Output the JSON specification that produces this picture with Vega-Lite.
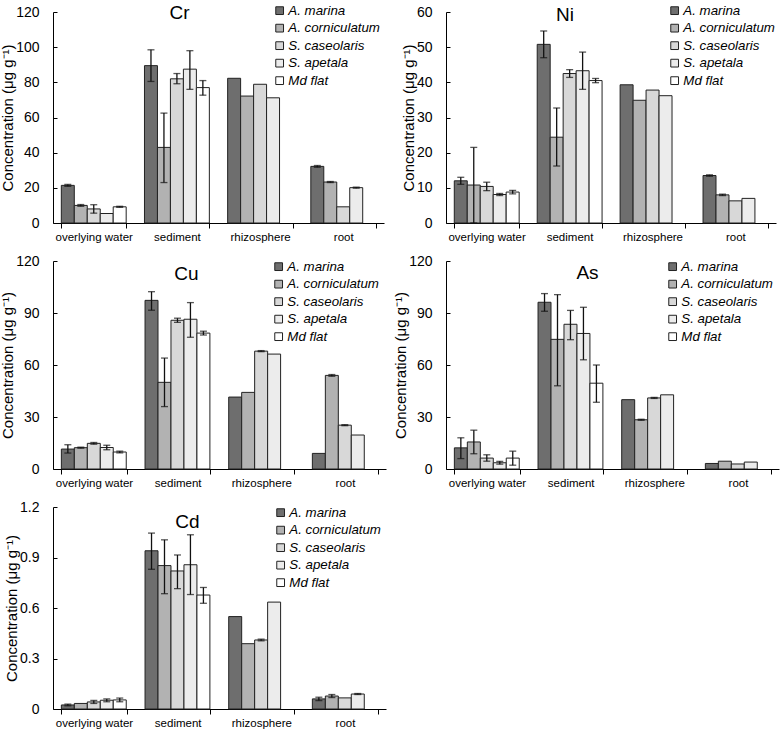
{
  "$schema": "https://vega.github.io/schema/vega-lite/v6.json",
  "padding": {"left": 0, "top": 4, "right": 2, "bottom": 0},
  "datasets": {
    "d": [
      {"m":"Cr","s":"overlying water","p":"A. marina","v":21.4,"lo":20.9,"hi":21.9},
      {"m":"Cr","s":"overlying water","p":"A. corniculatum","v":10.0,"lo":9.5,"hi":10.5},
      {"m":"Cr","s":"overlying water","p":"S. caseolaris","v":8.0,"lo":5.6,"hi":10.4},
      {"m":"Cr","s":"overlying water","p":"S. apetala","v":5.4},
      {"m":"Cr","s":"overlying water","p":"Md flat","v":9.2,"lo":8.9,"hi":9.5},
      {"m":"Cr","s":"sediment","p":"A. marina","v":89.5,"lo":80.5,"hi":98.5},
      {"m":"Cr","s":"sediment","p":"A. corniculatum","v":43.0,"lo":23.0,"hi":62.5},
      {"m":"Cr","s":"sediment","p":"S. caseolaris","v":82.0,"lo":79.2,"hi":85.0},
      {"m":"Cr","s":"sediment","p":"S. apetala","v":87.5,"lo":76.0,"hi":98.0},
      {"m":"Cr","s":"sediment","p":"Md flat","v":77.0,"lo":72.7,"hi":81.0},
      {"m":"Cr","s":"rhizosphere","p":"A. marina","v":82.3},
      {"m":"Cr","s":"rhizosphere","p":"A. corniculatum","v":72.2},
      {"m":"Cr","s":"rhizosphere","p":"S. caseolaris","v":78.9},
      {"m":"Cr","s":"rhizosphere","p":"S. apetala","v":71.2},
      {"m":"Cr","s":"root","p":"A. marina","v":32.2,"lo":31.7,"hi":32.7},
      {"m":"Cr","s":"root","p":"A. corniculatum","v":23.3,"lo":23.0,"hi":23.6},
      {"m":"Cr","s":"root","p":"S. caseolaris","v":9.2},
      {"m":"Cr","s":"root","p":"S. apetala","v":20.1,"lo":19.8,"hi":20.4},

      {"m":"Ni","s":"overlying water","p":"A. marina","v":12.0,"lo":11.0,"hi":13.0},
      {"m":"Ni","s":"overlying water","p":"A. corniculatum","v":10.8,"lo":0.0,"hi":21.5},
      {"m":"Ni","s":"overlying water","p":"S. caseolaris","v":10.4,"lo":9.2,"hi":11.6},
      {"m":"Ni","s":"overlying water","p":"S. apetala","v":8.1,"lo":7.8,"hi":8.4},
      {"m":"Ni","s":"overlying water","p":"Md flat","v":8.8,"lo":8.3,"hi":9.3},
      {"m":"Ni","s":"sediment","p":"A. marina","v":50.8,"lo":47.0,"hi":54.6},
      {"m":"Ni","s":"sediment","p":"A. corniculatum","v":24.4,"lo":16.2,"hi":32.7},
      {"m":"Ni","s":"sediment","p":"S. caseolaris","v":42.5,"lo":41.4,"hi":43.6},
      {"m":"Ni","s":"sediment","p":"S. apetala","v":43.3,"lo":38.0,"hi":48.6},
      {"m":"Ni","s":"sediment","p":"Md flat","v":40.5,"lo":39.9,"hi":41.1},
      {"m":"Ni","s":"rhizosphere","p":"A. marina","v":39.3},
      {"m":"Ni","s":"rhizosphere","p":"A. corniculatum","v":34.9},
      {"m":"Ni","s":"rhizosphere","p":"S. caseolaris","v":37.8},
      {"m":"Ni","s":"rhizosphere","p":"S. apetala","v":36.2},
      {"m":"Ni","s":"root","p":"A. marina","v":13.5,"lo":13.3,"hi":13.7},
      {"m":"Ni","s":"root","p":"A. corniculatum","v":8.0,"lo":7.8,"hi":8.2},
      {"m":"Ni","s":"root","p":"S. caseolaris","v":6.3},
      {"m":"Ni","s":"root","p":"S. apetala","v":7.0},

      {"m":"Cu","s":"overlying water","p":"A. marina","v":11.5,"lo":9.2,"hi":14.0},
      {"m":"Cu","s":"overlying water","p":"A. corniculatum","v":12.3,"lo":12.0,"hi":12.6},
      {"m":"Cu","s":"overlying water","p":"S. caseolaris","v":14.8,"lo":14.3,"hi":15.3},
      {"m":"Cu","s":"overlying water","p":"S. apetala","v":12.4,"lo":11.1,"hi":13.7},
      {"m":"Cu","s":"overlying water","p":"Md flat","v":9.8,"lo":9.3,"hi":10.3},
      {"m":"Cu","s":"sediment","p":"A. marina","v":97.3,"lo":91.6,"hi":102.3},
      {"m":"Cu","s":"sediment","p":"A. corniculatum","v":50.0,"lo":36.0,"hi":64.0},
      {"m":"Cu","s":"sediment","p":"S. caseolaris","v":85.8,"lo":84.6,"hi":87.0},
      {"m":"Cu","s":"sediment","p":"S. apetala","v":86.4,"lo":76.0,"hi":96.0},
      {"m":"Cu","s":"sediment","p":"Md flat","v":78.4,"lo":77.3,"hi":79.5},
      {"m":"Cu","s":"rhizosphere","p":"A. marina","v":41.5},
      {"m":"Cu","s":"rhizosphere","p":"A. corniculatum","v":44.2},
      {"m":"Cu","s":"rhizosphere","p":"S. caseolaris","v":68.0,"lo":67.7,"hi":68.3},
      {"m":"Cu","s":"rhizosphere","p":"S. apetala","v":66.3},
      {"m":"Cu","s":"root","p":"A. marina","v":9.0},
      {"m":"Cu","s":"root","p":"A. corniculatum","v":54.0,"lo":53.5,"hi":54.5},
      {"m":"Cu","s":"root","p":"S. caseolaris","v":25.3,"lo":25.0,"hi":25.6},
      {"m":"Cu","s":"root","p":"S. apetala","v":19.6},

      {"m":"As","s":"overlying water","p":"A. marina","v":12.2,"lo":6.0,"hi":18.0},
      {"m":"As","s":"overlying water","p":"A. corniculatum","v":15.6,"lo":8.8,"hi":22.4},
      {"m":"As","s":"overlying water","p":"S. caseolaris","v":6.3,"lo":4.5,"hi":8.2},
      {"m":"As","s":"overlying water","p":"S. apetala","v":3.6,"lo":2.8,"hi":4.4},
      {"m":"As","s":"overlying water","p":"Md flat","v":6.3,"lo":2.2,"hi":10.3},
      {"m":"As","s":"sediment","p":"A. marina","v":96.2,"lo":91.0,"hi":101.2},
      {"m":"As","s":"sediment","p":"A. corniculatum","v":74.8,"lo":48.0,"hi":100.6},
      {"m":"As","s":"sediment","p":"S. caseolaris","v":83.5,"lo":74.6,"hi":91.5},
      {"m":"As","s":"sediment","p":"S. apetala","v":78.2,"lo":63.0,"hi":93.3},
      {"m":"As","s":"sediment","p":"Md flat","v":49.5,"lo":38.5,"hi":60.0},
      {"m":"As","s":"rhizosphere","p":"A. marina","v":40.0},
      {"m":"As","s":"rhizosphere","p":"A. corniculatum","v":28.4,"lo":28.1,"hi":28.7},
      {"m":"As","s":"rhizosphere","p":"S. caseolaris","v":41.0,"lo":40.7,"hi":41.3},
      {"m":"As","s":"rhizosphere","p":"S. apetala","v":42.8},
      {"m":"As","s":"root","p":"A. marina","v":3.2},
      {"m":"As","s":"root","p":"A. corniculatum","v":4.5},
      {"m":"As","s":"root","p":"S. caseolaris","v":2.9},
      {"m":"As","s":"root","p":"S. apetala","v":4.0},

      {"m":"Cd","s":"overlying water","p":"A. marina","v":0.024,"lo":0.019,"hi":0.029},
      {"m":"Cd","s":"overlying water","p":"A. corniculatum","v":0.033},
      {"m":"Cd","s":"overlying water","p":"S. caseolaris","v":0.042,"lo":0.033,"hi":0.051},
      {"m":"Cd","s":"overlying water","p":"S. apetala","v":0.052,"lo":0.043,"hi":0.06},
      {"m":"Cd","s":"overlying water","p":"Md flat","v":0.054,"lo":0.043,"hi":0.065},
      {"m":"Cd","s":"sediment","p":"A. marina","v":0.94,"lo":0.83,"hi":1.045},
      {"m":"Cd","s":"sediment","p":"A. corniculatum","v":0.852,"lo":0.685,"hi":1.005},
      {"m":"Cd","s":"sediment","p":"S. caseolaris","v":0.82,"lo":0.715,"hi":0.915},
      {"m":"Cd","s":"sediment","p":"S. apetala","v":0.857,"lo":0.68,"hi":1.035},
      {"m":"Cd","s":"sediment","p":"Md flat","v":0.677,"lo":0.628,"hi":0.722},
      {"m":"Cd","s":"rhizosphere","p":"A. marina","v":0.549},
      {"m":"Cd","s":"rhizosphere","p":"A. corniculatum","v":0.388},
      {"m":"Cd","s":"rhizosphere","p":"S. caseolaris","v":0.41,"lo":0.405,"hi":0.415},
      {"m":"Cd","s":"rhizosphere","p":"S. apetala","v":0.635},
      {"m":"Cd","s":"root","p":"A. marina","v":0.06,"lo":0.05,"hi":0.07},
      {"m":"Cd","s":"root","p":"A. corniculatum","v":0.077,"lo":0.068,"hi":0.086},
      {"m":"Cd","s":"root","p":"S. caseolaris","v":0.066},
      {"m":"Cd","s":"root","p":"S. apetala","v":0.089,"lo":0.086,"hi":0.092}
    ]
  },
  "config": {
    "font": "Liberation Sans",
    "view": {"stroke": null},
    "axis": {"grid": false, "domainColor": "#000", "tickColor": "#000", "labelColor": "#000", "titleColor": "#000", "domainWidth": 1},
    "axisX": {"labelFontSize": 11.5, "tickBand": "extent", "tickSize": 5, "labelPadding": 3, "labelAngle": 0, "title": null},
    "axisY": {"labelFontSize": 14, "tickSize": -4, "labelPadding": 18, "titleFontSize": 15, "titleFontWeight": "normal", "titlePadding": 0, "labelOverlap": false},
    "title": {"fontSize": 19, "fontWeight": "normal", "color": "#000", "anchor": "middle", "frame": "group"}
  },
  "columns": 2,
  "spacing": {"column": 7, "row": 11},
  "resolve": {"scale": {"x": "independent", "y": "independent", "fill": "independent"}, "legend": {"fill": "independent"}},
  "concat": [
    {
      "width": 331, "height": 211,
      "title": {"text": "Cr", "offset": -19, "dx": -39},
      "data": {"name": "d"},
      "transform": [{"filter": "datum.m == 'Cr'"}],
      "encoding": {
        "x": {"field": "s", "type": "nominal", "scale": {"domain": ["overlying water","sediment","rhizosphere","root"], "paddingInner": 0.22, "paddingOuter": 0.1}},
        "xOffset": {"field": "p", "type": "nominal", "scale": {"domain": ["A. marina","A. corniculatum","S. caseolaris","S. apetala","Md flat"], "paddingInner": 0, "paddingOuter": 0}}
      },
      "layer": [
        {"mark": {"type": "bar", "stroke": "#222", "strokeWidth": 1},
         "encoding": {
           "y": {"field": "v", "type": "quantitative", "scale": {"domain": [0, 120], "nice": false}, "axis": {"tickCount": 7, "labelOverlap": false, "title": "Concentration (μg g⁻¹)"}},
           "fill": {"field": "p", "type": "nominal", "scale": {"domain": ["A. marina","A. corniculatum","S. caseolaris","S. apetala","Md flat"], "range": ["#6e6e6e","#b2b2b2","#d8d8d8","#ececec","#ffffff"]},
             "legend": {"orient": "none", "legendX": 220, "legendY": -8, "title": null, "padding": 0, "labelFontStyle": "italic", "labelFontSize": 13.3, "labelColor": "#000", "symbolType": "square", "symbolSize": 60, "symbolStrokeColor": "#222", "symbolStrokeWidth": 1, "rowPadding": 3.5, "labelOffset": 2}}
         }},
        {"mark": {"type": "rule", "color": "#111", "strokeWidth": 1.3}, "encoding": {"y": {"field": "lo", "type": "quantitative"}, "y2": {"field": "hi"}}},
        {"mark": {"type": "tick", "color": "#111", "thickness": 1.3, "size": 7}, "encoding": {"y": {"field": "lo", "type": "quantitative"}}},
        {"mark": {"type": "tick", "color": "#111", "thickness": 1.3, "size": 7}, "encoding": {"y": {"field": "hi", "type": "quantitative"}}}
      ]
    },
    {
      "width": 330, "height": 211,
      "title": {"text": "Ni", "offset": -21, "dx": -46},
      "data": {"name": "d"},
      "transform": [{"filter": "datum.m == 'Ni'"}],
      "encoding": {
        "x": {"field": "s", "type": "nominal", "scale": {"domain": ["overlying water","sediment","rhizosphere","root"], "paddingInner": 0.22, "paddingOuter": 0.1}},
        "xOffset": {"field": "p", "type": "nominal", "scale": {"domain": ["A. marina","A. corniculatum","S. caseolaris","S. apetala","Md flat"], "paddingInner": 0, "paddingOuter": 0}}
      },
      "layer": [
        {"mark": {"type": "bar", "stroke": "#222", "strokeWidth": 1},
         "encoding": {
           "y": {"field": "v", "type": "quantitative", "scale": {"domain": [0, 60], "nice": false}, "axis": {"tickCount": 7, "labelOverlap": false, "title": "Concentration (μg g⁻¹)"}},
           "fill": {"field": "p", "type": "nominal", "scale": {"domain": ["A. marina","A. corniculatum","S. caseolaris","S. apetala","Md flat"], "range": ["#6e6e6e","#b2b2b2","#d8d8d8","#ececec","#ffffff"]},
             "legend": {"orient": "none", "legendX": 222, "legendY": -8, "title": null, "padding": 0, "labelFontStyle": "italic", "labelFontSize": 13.3, "labelColor": "#000", "symbolType": "square", "symbolSize": 60, "symbolStrokeColor": "#222", "symbolStrokeWidth": 1, "rowPadding": 3.5, "labelOffset": 2}}
         }},
        {"mark": {"type": "rule", "color": "#111", "strokeWidth": 1.3}, "encoding": {"y": {"field": "lo", "type": "quantitative"}, "y2": {"field": "hi"}}},
        {"mark": {"type": "tick", "color": "#111", "thickness": 1.3, "size": 7}, "encoding": {"y": {"field": "lo", "type": "quantitative"}}},
        {"mark": {"type": "tick", "color": "#111", "thickness": 1.3, "size": 7}, "encoding": {"y": {"field": "hi", "type": "quantitative"}}}
      ]
    },
    {
      "width": 333, "height": 208,
      "title": {"text": "Cu", "offset": -30, "dx": -33},
      "data": {"name": "d"},
      "transform": [{"filter": "datum.m == 'Cu'"}],
      "encoding": {
        "x": {"field": "s", "type": "nominal", "scale": {"domain": ["overlying water","sediment","rhizosphere","root"], "paddingInner": 0.22, "paddingOuter": 0.1}},
        "xOffset": {"field": "p", "type": "nominal", "scale": {"domain": ["A. marina","A. corniculatum","S. caseolaris","S. apetala","Md flat"], "paddingInner": 0, "paddingOuter": 0}}
      },
      "layer": [
        {"mark": {"type": "bar", "stroke": "#222", "strokeWidth": 1},
         "encoding": {
           "y": {"field": "v", "type": "quantitative", "scale": {"domain": [0, 120], "nice": false}, "axis": {"values": [0,30,60,90,120], "labelOverlap": false, "title": "Concentration (μg g⁻¹)"}},
           "fill": {"field": "p", "type": "nominal", "scale": {"domain": ["A. marina","A. corniculatum","S. caseolaris","S. apetala","Md flat"], "range": ["#6e6e6e","#b2b2b2","#d8d8d8","#ececec","#ffffff"]},
             "legend": {"orient": "none", "legendX": 219, "legendY": -1, "title": null, "padding": 0, "labelFontStyle": "italic", "labelFontSize": 13.3, "labelColor": "#000", "symbolType": "square", "symbolSize": 60, "symbolStrokeColor": "#222", "symbolStrokeWidth": 1, "rowPadding": 3.5, "labelOffset": 2}}
         }},
        {"mark": {"type": "rule", "color": "#111", "strokeWidth": 1.3}, "encoding": {"y": {"field": "lo", "type": "quantitative"}, "y2": {"field": "hi"}}},
        {"mark": {"type": "tick", "color": "#111", "thickness": 1.3, "size": 7}, "encoding": {"y": {"field": "lo", "type": "quantitative"}}},
        {"mark": {"type": "tick", "color": "#111", "thickness": 1.3, "size": 7}, "encoding": {"y": {"field": "hi", "type": "quantitative"}}}
      ]
    },
    {
      "width": 333, "height": 208,
      "title": {"text": "As", "offset": -29, "dx": -25},
      "data": {"name": "d"},
      "transform": [{"filter": "datum.m == 'As'"}],
      "encoding": {
        "x": {"field": "s", "type": "nominal", "scale": {"domain": ["overlying water","sediment","rhizosphere","root"], "paddingInner": 0.22, "paddingOuter": 0.1}},
        "xOffset": {"field": "p", "type": "nominal", "scale": {"domain": ["A. marina","A. corniculatum","S. caseolaris","S. apetala","Md flat"], "paddingInner": 0, "paddingOuter": 0}}
      },
      "layer": [
        {"mark": {"type": "bar", "stroke": "#222", "strokeWidth": 1},
         "encoding": {
           "y": {"field": "v", "type": "quantitative", "scale": {"domain": [0, 120], "nice": false}, "axis": {"values": [0,30,60,90,120], "labelOverlap": false, "title": "Concentration (μg g⁻¹)"}},
           "fill": {"field": "p", "type": "nominal", "scale": {"domain": ["A. marina","A. corniculatum","S. caseolaris","S. apetala","Md flat"], "range": ["#6e6e6e","#b2b2b2","#d8d8d8","#ececec","#ffffff"]},
             "legend": {"orient": "none", "legendX": 220, "legendY": -1, "title": null, "padding": 0, "labelFontStyle": "italic", "labelFontSize": 13.3, "labelColor": "#000", "symbolType": "square", "symbolSize": 60, "symbolStrokeColor": "#222", "symbolStrokeWidth": 1, "rowPadding": 3.5, "labelOffset": 2}}
         }},
        {"mark": {"type": "rule", "color": "#111", "strokeWidth": 1.3}, "encoding": {"y": {"field": "lo", "type": "quantitative"}, "y2": {"field": "hi"}}},
        {"mark": {"type": "tick", "color": "#111", "thickness": 1.3, "size": 7}, "encoding": {"y": {"field": "lo", "type": "quantitative"}}},
        {"mark": {"type": "tick", "color": "#111", "thickness": 1.3, "size": 7}, "encoding": {"y": {"field": "hi", "type": "quantitative"}}}
      ]
    },
    {
      "width": 333, "height": 202,
      "title": {"text": "Cd", "offset": -32, "dx": -32},
      "data": {"name": "d"},
      "transform": [{"filter": "datum.m == 'Cd'"}],
      "encoding": {
        "x": {"field": "s", "type": "nominal", "scale": {"domain": ["overlying water","sediment","rhizosphere","root"], "paddingInner": 0.22, "paddingOuter": 0.1}},
        "xOffset": {"field": "p", "type": "nominal", "scale": {"domain": ["A. marina","A. corniculatum","S. caseolaris","S. apetala","Md flat"], "paddingInner": 0, "paddingOuter": 0}}
      },
      "layer": [
        {"mark": {"type": "bar", "stroke": "#222", "strokeWidth": 1},
         "encoding": {
           "y": {"field": "v", "type": "quantitative", "scale": {"domain": [0, 1.2], "nice": false}, "axis": {"values": [0,0.3,0.6,0.9,1.2], "format": "~g", "labelOverlap": false, "title": "Concentration (μg g⁻¹)"}},
           "fill": {"field": "p", "type": "nominal", "scale": {"domain": ["A. marina","A. corniculatum","S. caseolaris","S. apetala","Md flat"], "range": ["#6e6e6e","#b2b2b2","#d8d8d8","#ececec","#ffffff"]},
             "legend": {"orient": "none", "legendX": 221, "legendY": -1, "title": null, "padding": 0, "labelFontStyle": "italic", "labelFontSize": 13.3, "labelColor": "#000", "symbolType": "square", "symbolSize": 60, "symbolStrokeColor": "#222", "symbolStrokeWidth": 1, "rowPadding": 3.5, "labelOffset": 2}}
         }},
        {"mark": {"type": "rule", "color": "#111", "strokeWidth": 1.3}, "encoding": {"y": {"field": "lo", "type": "quantitative"}, "y2": {"field": "hi"}}},
        {"mark": {"type": "tick", "color": "#111", "thickness": 1.3, "size": 7}, "encoding": {"y": {"field": "lo", "type": "quantitative"}}},
        {"mark": {"type": "tick", "color": "#111", "thickness": 1.3, "size": 7}, "encoding": {"y": {"field": "hi", "type": "quantitative"}}}
      ]
    }
  ]
}
